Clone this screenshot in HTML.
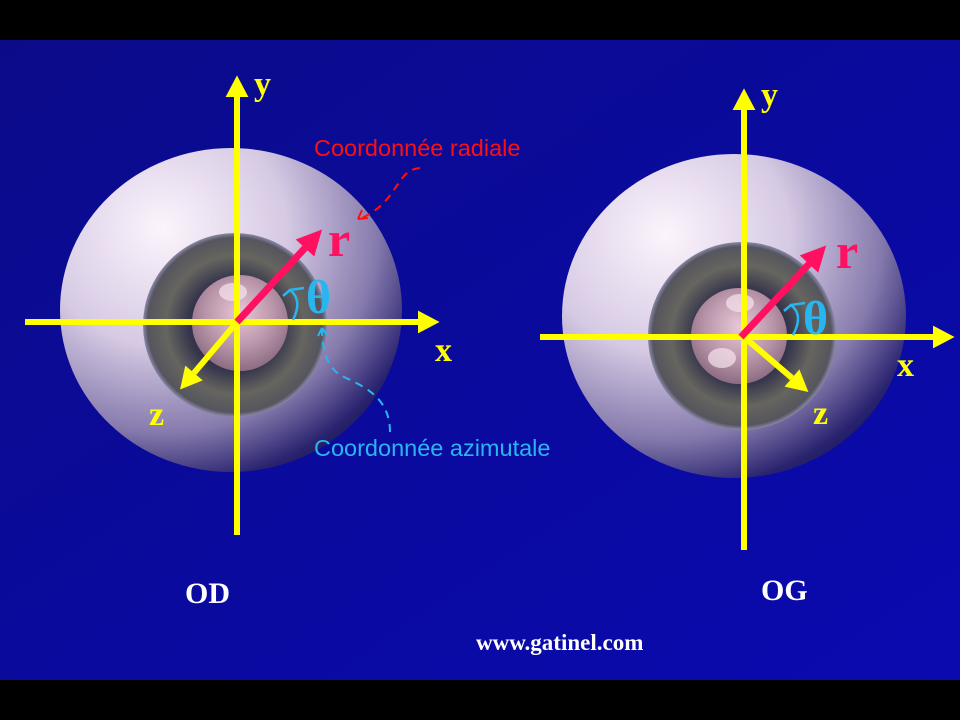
<!DOCTYPE html>
<html><head><meta charset="utf-8"><style>
html,body{margin:0;padding:0;width:960px;height:720px;overflow:hidden;background:#000}
svg{display:block}
</style></head><body>
<svg width="960" height="720" viewBox="0 0 960 720" xmlns="http://www.w3.org/2000/svg">
<defs>
<linearGradient id="bg" x1="0" y1="0" x2="1" y2="1">
<stop offset="0" stop-color="#0b0b8a"/><stop offset="1" stop-color="#0a0ab0"/></linearGradient>
<radialGradient id="sph" cx="0.3" cy="0.25" r="0.9">
<stop offset="0" stop-color="#fcf4fc"/><stop offset="0.4" stop-color="#d6cae4"/><stop offset="0.7" stop-color="#857aac"/><stop offset="0.88" stop-color="#2a2470"/><stop offset="1" stop-color="#0c0a40"/></radialGradient>
<radialGradient id="iris" cx="0.5" cy="0.5" r="0.5">
<stop offset="0.5" stop-color="#34344c"/><stop offset="0.75" stop-color="#66655f"/><stop offset="0.95" stop-color="#55555e"/><stop offset="1" stop-color="#8a88a8"/></radialGradient>
<radialGradient id="pup" cx="0.5" cy="0.4" r="0.6">
<stop offset="0" stop-color="#e8c8d8"/><stop offset="0.6" stop-color="#b894a8"/><stop offset="1" stop-color="#8c6c82"/></radialGradient>
<marker id="ay" markerWidth="4" markerHeight="4" refX="0" refY="2" orient="auto" markerUnits="strokeWidth" overflow="visible"><path d="M0,0.1 L3.6,2 L0,3.9 z" fill="#ffff00"/></marker>
<marker id="ar" markerWidth="4" markerHeight="4" refX="0" refY="2" orient="auto" markerUnits="strokeWidth" overflow="visible"><path d="M0,0.2 L3.6,2 L0,3.8 z" fill="#ff1060"/></marker>
</defs>
<rect x="0" y="40" width="960" height="640" fill="url(#bg)"/>

<ellipse cx="231" cy="310" rx="171" ry="162" fill="url(#sph)"/>
<circle cx="235" cy="325" r="92" fill="url(#iris)"/>
<circle cx="240" cy="323" r="48" fill="url(#pup)"/>
<ellipse cx="734" cy="316" rx="172" ry="162" fill="url(#sph)"/>
<circle cx="742" cy="336" r="94" fill="url(#iris)"/>
<circle cx="739" cy="336" r="48" fill="url(#pup)"/>
<ellipse cx="233" cy="292" rx="14" ry="9" fill="#f6e4ee" opacity="0.7"/>
<ellipse cx="740" cy="303" rx="14" ry="9" fill="#f6e4ee" opacity="0.7"/>
<ellipse cx="722" cy="358" rx="14" ry="10" fill="#f6e4ee" opacity="0.7"/>

<g stroke="#ffff00" stroke-width="6" fill="none">
<line x1="237" y1="535" x2="237" y2="97" marker-end="url(#ay)"/>
<line x1="25" y1="322" x2="418" y2="322" marker-end="url(#ay)"/>
<line x1="237" y1="322" x2="194" y2="373" marker-end="url(#ay)"/>
<line x1="744" y1="550" x2="744" y2="110" marker-end="url(#ay)"/>
<line x1="540" y1="337" x2="933" y2="337" marker-end="url(#ay)"/>
<line x1="744" y1="337" x2="792" y2="378" marker-end="url(#ay)"/>
</g>
<g stroke="#ff1060" stroke-width="7" fill="none">
<line x1="237" y1="322" x2="305" y2="248" marker-end="url(#ar)"/>
<line x1="741" y1="337" x2="809" y2="264" marker-end="url(#ar)"/>
</g>
<g stroke="#29b6f0" stroke-width="2.5" fill="none">
<path d="M293,320 Q303,300 290,290 L283,296 M290,290 L304,288"/>
<path d="M793,335 Q804,315 791,305 L784,311 M791,305 L805,303"/>
</g>
<path d="M420,168 C395,170 400,200 362,218" stroke="#ff1010" stroke-width="2" stroke-dasharray="8,6" fill="none"/>
<path d="M358,219 l10,-1 M358,219 l4,-9" stroke="#ff1010" stroke-width="2"/>
<path d="M390,432 C390,395 360,385 340,375 C325,365 322,345 322,330" stroke="#29b6f0" stroke-width="2" stroke-dasharray="8,6" fill="none"/>
<path d="M322,328 l-4,8 M322,328 l5,7" stroke="#29b6f0" stroke-width="2"/>

<g font-family="Liberation Serif, serif" font-weight="bold">
<text x="254" y="95" font-size="34" fill="#ffff00">y</text>
<text x="435" y="361" font-size="34" fill="#ffff00">x</text>
<text x="149" y="425" font-size="34" fill="#ffff00">z</text>
<text x="328" y="256" font-size="50" fill="#ff1060">r</text>
<text x="306" y="313" font-size="48" fill="#29b6f0">θ</text>
<text x="761" y="106" font-size="34" fill="#ffff00">y</text>
<text x="897" y="376" font-size="34" fill="#ffff00">x</text>
<text x="813" y="424" font-size="34" fill="#ffff00">z</text>
<text x="836" y="268" font-size="50" fill="#ff1060">r</text>
<text x="803" y="334" font-size="48" fill="#29b6f0">θ</text>
<text x="185" y="603" font-size="30" fill="#ffffff">OD</text>
<text x="761" y="600" font-size="30" fill="#ffffff">OG</text>
<text x="476" y="650" font-size="23" fill="#ffffff">www.gatinel.com</text>
</g>
<g font-family="Liberation Sans, sans-serif" font-size="23.5">
<text x="314" y="156" fill="#ff1010">Coordonnée radiale</text>
<text x="314" y="456" fill="#29b6f0">Coordonnée azimutale</text>
</g>
</svg>
</body></html>
